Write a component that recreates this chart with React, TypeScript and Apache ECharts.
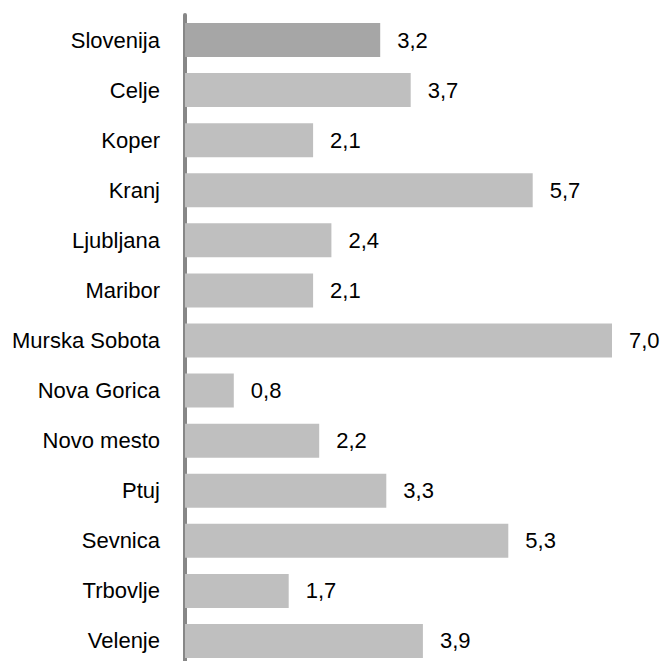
import React, { useEffect, useRef } from "react";
import * as echarts from "echarts";

const categories = [
  "Slovenija",
  "Celje",
  "Koper",
  "Kranj",
  "Ljubljana",
  "Maribor",
  "Murska Sobota",
  "Nova Gorica",
  "Novo mesto",
  "Ptuj",
  "Sevnica",
  "Trbovlje",
  "Velenje",
];
const values = [3.2, 3.7, 2.1, 5.7, 2.4, 2.1, 7.0, 0.8, 2.2, 3.3, 5.3, 1.7, 3.9];

const FONT = '"Liberation Sans", Arial, sans-serif';

export default function App() {
  const ref = useRef<HTMLDivElement>(null);
  useEffect(() => {
    if (!ref.current) return;
    const chart = echarts.init(ref.current, null, { renderer: "svg" });
    chart.setOption({
      animation: false,
      backgroundColor: "#ffffff",
      grid: {
        left: 185,
        top: 15,
        width: 427,
        height: 651,
        containLabel: false,
        outerBoundsMode: "none",
      },
      xAxis: {
        type: "value",
        min: 0,
        max: 7,
        show: false,
        splitLine: { show: false },
      },
      yAxis: {
        type: "category",
        inverse: true,
        data: categories,
        axisTick: { show: false },
        axisLine: { show: true, lineStyle: { color: "#878787", width: 4 } },
        axisLabel: {
          margin: 25,
          color: "#000000",
          fontSize: 22,
          fontFamily: FONT,
        },
      },
      series: [
        {
          type: "bar",
          barWidth: 34,
          data: values.map((v, i) => ({
            value: v,
            itemStyle: { color: i === 0 ? "#a6a6a6" : "#bfbfbf" },
          })),
          label: {
            show: true,
            position: "right",
            distance: 17,
            color: "#000000",
            fontSize: 22,
            fontFamily: FONT,
            formatter: (p: any) => Number(p.value).toFixed(1).replace(".", ","),
          },
        },
      ],
    });
    return () => chart.dispose();
  }, []);
  return (
    <div
      ref={ref}
      style={{ position: "absolute", left: 0, top: 0, width: 664, height: 661 }}
    />
  );
}
